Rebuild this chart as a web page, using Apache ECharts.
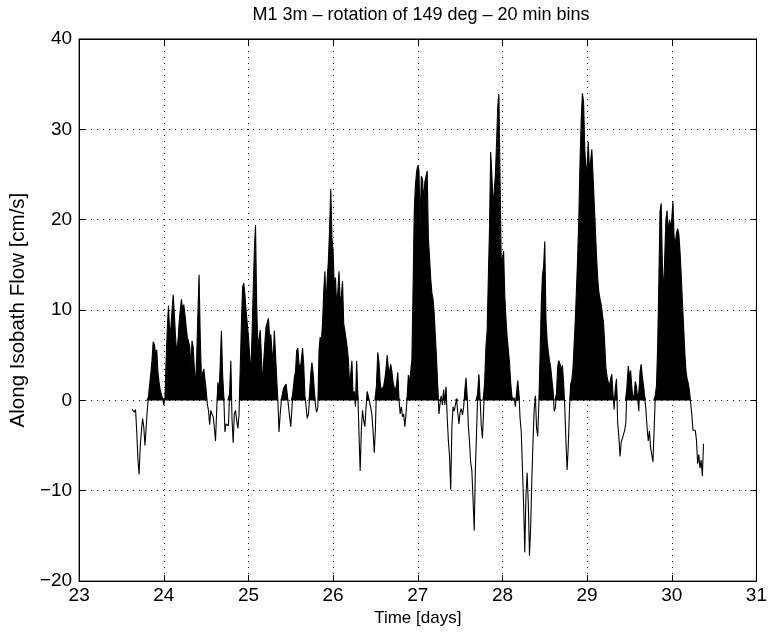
<!DOCTYPE html>
<html>
<head>
<meta charset="utf-8">
<script src="https://cdn.jsdelivr.net/npm/echarts@6/dist/echarts.min.js"></script>
<style>
html,body{margin:0;padding:0;background:#fff;}
#chart{width:770px;height:632px;}
</style>
</head>
<body>
<div id="chart"></div>
<script>
// Along-isobath flow [cm/s], 20-minute bins.
const firstBinDay = 23.625;          // time of first bin [days]
const binsPerDay = 72;               // 20 min bins
const titleText = 'M1 3m \u2013 rotation of 149 deg \u2013 20 min bins';
const xLabel = 'Time [days]';
const yLabel = 'Along Isobath Flow [cm/s]';
const xTicks = [23, 24, 25, 26, 27, 28, 29, 30, 31];
const yTicks = [-20, -10, 0, 10, 20, 30, 40];

const day23 = [-1.0,-1.1,-1.3,-1.0,-3.5,-6.5,-8.2,-5.0,-3.3,-2.0,-3.0,-5.0,-3.0,-1.0,0.5,1.8,3.0,4.5,6.5,6.2,5.2,5.6,3.2,2.0,1.1,1.0,0.2];
const day24 = [-0.5,0.3,4.5,8.0,10.5,7.5,8.0,10.0,11.7,9.5,7.0,5.2,6.5,8.5,10.0,11.2,10.0,10.6,9.5,8.2,7.0,6.8,6.0,3.8,6.6,5.9,3.5,1.5,5.0,9.5,13.9,7.0,2.6,3.0,3.5,3.7,1.2,-0.4,-1.1,-2.7,-1.1,-1.5,-1.8,-3.0,-4.5,-1.0,2.0,0.9,4.0,7.7,3.0,0.5,-3.5,-2.6,-2.6,-2.8,1.0,4.4,-2.0,-4.7,-1.5,-1.1,-2.2,-3.1,-1.5,3.5,8.4,12.5,13.0,11.7,9.9,8.5];
const day25 = [7.0,5.0,2.9,7.0,12.0,16.5,19.4,10.5,5.9,6.8,7.8,5.0,1.5,4.4,6.5,8.2,8.6,9.1,7.0,7.3,5.5,4.2,7.7,7.9,2.5,0.0,-3.5,-1.5,0.0,0.8,1.4,1.6,1.8,0.7,-0.6,-1.8,-2.9,-0.8,1.2,2.5,3.2,5.5,5.8,4.0,3.5,4.5,5.8,4.0,0.5,-0.7,-2.0,-1.5,0.2,3.0,4.2,3.0,1.2,-0.6,-1.3,-0.8,5.5,7.0,6.6,8.5,12.0,14.3,10.5,13.5,15.5,19.0,23.4,18.0];
const day26 = [16.5,12.5,13.6,10.5,12.0,14.3,11.0,11.5,13.2,8.5,7.7,6.8,5.8,4.5,1.5,1.5,4.4,0.4,1.0,-0.7,4.4,0.7,-3.6,-7.8,-3.3,-1.1,-2.2,-2.9,-0.8,1.0,0.8,-0.2,-0.8,-1.6,-3.5,-5.8,-3.0,2.2,5.3,4.2,2.0,1.1,1.1,1.6,2.4,3.5,5.0,3.5,3.2,4.0,3.2,2.0,1.4,1.1,1.8,3.1,0.2,-1.5,-0.7,-1.8,-1.5,-2.9,-1.5,0.5,2.8,2.0,1.8,4.5,12.5,21.0,23.8,25.3];
const day27 = [26.0,25.5,19.4,24.8,24.5,22.0,24.2,24.0,25.4,18.0,15.8,13.5,11.9,11.2,9.6,7.0,4.5,1.5,-1.5,-0.3,0.5,-0.5,1.2,-0.5,1.5,-1.8,-4.4,-6.2,-9.9,-3.0,-0.7,-1.2,-1.0,0.2,-1.4,-2.6,-1.3,-0.9,-1.6,-0.8,1.1,2.5,0.5,-2.8,-4.6,-6.9,-7.8,-11.0,-14.4,-7.5,-3.5,1.0,2.9,0.2,-2.8,-4.2,-1.0,2.5,6.0,7.7,13.6,19.0,27.5,25.0,21.5,21.5,24.9,28.5,32.5,33.9,24.0,15.0];
const day28 = [15.0,16.5,11.5,9.0,7.0,5.6,4.2,2.0,0.5,0.0,0.3,-0.7,0.8,2.2,0.8,-2.0,-3.5,-7.5,-11.5,-16.8,-10.5,-8.0,-11.5,-17.2,-14.0,-8.8,-4.5,-1.0,0.5,-3.0,-4.0,-0.2,5.0,10.5,13.8,14.8,17.6,9.0,6.6,5.4,4.4,3.7,2.4,1.2,-1.2,-0.8,0.9,3.8,4.4,4.0,3.4,3.9,2.0,-0.8,-4.5,-7.7,-5.0,-1.0,1.8,2.2,3.6,6.3,9.0,12.5,16.0,20.5,26.5,31.1,34.0,33.0,28.0,25.3];
const day29 = [26.0,28.6,25.5,26.5,27.8,25.0,22.0,19.0,16.0,13.5,12.0,11.2,10.6,10.4,8.5,6.2,3.6,2.6,2.0,1.6,2.4,2.9,0.7,-1.0,1.4,2.4,-2.5,-4.0,-6.2,-4.6,-4.2,-4.4,-3.3,-2.4,1.8,3.8,2.7,3.3,1.5,0.1,0.6,2.1,1.5,0.2,-1.2,3.2,4.0,2.6,1.6,1.8,-1.0,-3.0,-4.5,-3.4,-5.2,-6.0,-6.8,-3.3,0.6,1.6,6.0,13.0,20.9,21.8,15.0,11.7,15.8,20.0,21.0,18.5,20.0,19.2];
const day30 = [20.1,22.0,18.0,17.4,18.5,19.0,18.4,16.5,14.0,11.0,8.4,5.5,3.4,2.4,1.9,1.1,-0.2,-1.5,-3.3,-3.2,-3.3,-4.4,-7.0,-6.0,-7.5,-6.6,-8.4,-4.8];

const flow = [].concat(day23, day24, day25, day26, day27, day28, day29, day30);
const lineData = flow.map((v, i) => [firstBinDay + i / binsPerDay, v]);
const fillData = flow.map((v, i) => [firstBinDay + i / binsPerDay, Math.max(v, 0)]);

const FONT = '"Liberation Sans", Arial, Helvetica, sans-serif';
const minus = v => String(v).replace('-', '\u2212');

const chart = echarts.init(document.getElementById('chart'), null, {renderer: 'canvas'});
const tickStyle = {show: true, inside: true, length: 6, lineStyle: {color: '#000', width: 1}};
const gridLine = {show: true, lineStyle: {color: '#000', width: 1, type: [1, 5]}};
chart.setOption({
  backgroundColor: '#fff',
  animation: false,
  title: {
    text: titleText,
    left: 416, top: 1, textAlign: 'center',
    textStyle: {fontFamily: FONT, fontSize: 18, fontWeight: 'normal', color: '#000'}
  },
  grid: {left: 72, right: 9, top: 39, bottom: 46, show: true, borderColor: '#000', borderWidth: 1, backgroundColor: 'transparent'},
  xAxis: [{
    type: 'value', min: xTicks[0], max: xTicks[xTicks.length - 1], interval: 1,
    name: xLabel, nameLocation: 'middle', nameGap: 28,
    nameTextStyle: {fontFamily: FONT, fontSize: 17, color: '#000'},
    axisLine: {show: true, onZero: false, lineStyle: {color: '#000', width: 1}},
    axisTick: tickStyle,
    axisLabel: {fontFamily: FONT, fontSize: 19, color: '#000', margin: 5, showMinLabel: true, showMaxLabel: true},
    splitLine: gridLine
  }, {
    type: 'value', position: 'top', min: xTicks[0], max: xTicks[xTicks.length - 1], interval: 1,
    axisLine: {show: true, onZero: false, lineStyle: {color: '#000'}},
    axisTick: tickStyle, axisLabel: {show: false}, splitLine: {show: false}
  }],
  yAxis: [{
    type: 'value', min: yTicks[0], max: yTicks[yTicks.length - 1], interval: 10,
    name: yLabel, nameLocation: 'middle', nameGap: 40, nameRotate: 90,
    nameTextStyle: {fontFamily: FONT, fontSize: 20.5, color: '#000'},
    axisLine: {show: true, onZero: false, lineStyle: {color: '#000', width: 1}},
    axisTick: tickStyle,
    axisLabel: {fontFamily: FONT, fontSize: 19, color: '#000', margin: 7, formatter: minus},
    splitLine: gridLine
  }, {
    type: 'value', position: 'right', min: yTicks[0], max: yTicks[yTicks.length - 1], interval: 10,
    axisLine: {show: true, onZero: false, lineStyle: {color: '#000'}},
    axisTick: tickStyle, axisLabel: {show: false}, splitLine: {show: false}
  }],
  series: [{
    type: 'line', data: fillData, symbol: 'none', silent: true,
    lineStyle: {width: 0, opacity: 0},
    areaStyle: {color: '#000', opacity: 1, origin: 0},
    z: 2
  }, {
    type: 'line', data: lineData, symbol: 'none', silent: true,
    lineStyle: {color: '#000', width: 1.1},
    z: 3
  }]
});
</script>
</body>
</html>
